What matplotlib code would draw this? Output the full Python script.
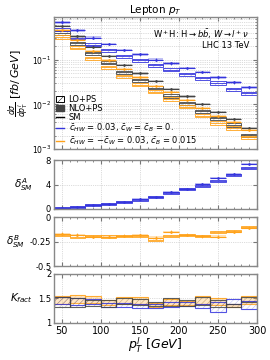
import numpy as np
import matplotlib.pyplot as plt
from matplotlib.patches import Patch
from matplotlib.lines import Line2D
from matplotlib.ticker import LogLocator, NullFormatter, FixedLocator

plt.rcParams['font.family'] = 'DejaVu Sans'
plt.rcParams['mathtext.fontset'] = 'dejavusans'
plt.rcParams['hatch.linewidth'] = 0.35

# bins of lepton pT [GeV]
edges = np.arange(40, 301, 20)

# differential cross sections [fb/GeV]
sm_nlo = [0.56, 0.33, 0.195, 0.12, 0.075, 0.049, 0.033, 0.022, 0.0150, 0.0102, 0.0068, 0.0047, 0.0030]
sm_lo = [0.394, 0.232, 0.139, 0.0857, 0.0517, 0.0343, 0.0237, 0.0154, 0.0106, 0.0070, 0.00486, 0.00346, 0.00203]
blue_nlo = [0.68, 0.45, 0.31, 0.22, 0.165, 0.13, 0.10, 0.082, 0.065, 0.052, 0.040, 0.031, 0.024]
blue_lo = [0.469, 0.310, 0.217, 0.161, 0.120, 0.096, 0.074, 0.059, 0.047, 0.0385, 0.030, 0.0217, 0.0175]
orange_nlo = [0.465, 0.271, 0.156, 0.096, 0.0608, 0.0399, 0.0261, 0.0187, 0.0123, 0.0082, 0.00544, 0.0040, 0.00267]
orange_lo = [0.321, 0.183, 0.106, 0.0676, 0.0419, 0.0277, 0.0191, 0.0132, 0.0088, 0.0056, 0.00383, 0.00296, 0.00183]
nlo_unc = 0.06   # relative scale band
lo_unc = 0.08

# relative deviations from SM
dA_nlo = [0.2, 0.35, 0.6, 0.85, 1.2, 1.65, 2.0, 2.75, 3.3, 4.1, 5.0, 5.8, 7.4]
dA_lo = [0.15, 0.35, 0.55, 0.8, 1.15, 1.5, 1.9, 2.6, 3.2, 3.75, 4.6, 5.6, 6.7]
dA_unc = 0.16
dB_nlo = [-0.17, -0.18, -0.20, -0.20, -0.19, -0.185, -0.21, -0.15, -0.18, -0.195, -0.20, -0.15, -0.11]
dB_lo = [-0.18, -0.20, -0.19, -0.20, -0.195, -0.19, -0.23, -0.195, -0.18, -0.19, -0.15, -0.14, -0.10]
dB_unc = 0.012

# K factor ranges
k_sm_low = [1.33, 1.33, 1.35, 1.33, 1.38, 1.37, 1.35, 1.35, 1.35, 1.37, 1.33, 1.33, 1.43]
k_sm_high = [1.52, 1.50, 1.46, 1.46, 1.51, 1.49, 1.43, 1.51, 1.47, 1.53, 1.46, 1.39, 1.53]
k_blue_low = [1.38, 1.36, 1.38, 1.33, 1.33, 1.30, 1.31, 1.33, 1.34, 1.30, 1.22, 1.38, 1.29]
k_blue_high = [1.53, 1.51, 1.48, 1.41, 1.40, 1.38, 1.39, 1.43, 1.42, 1.39, 1.43, 1.48, 1.44]
k_orange_low = [1.38, 1.40, 1.40, 1.36, 1.38, 1.38, 1.32, 1.36, 1.36, 1.38, 1.36, 1.33, 1.38]
k_orange_high = [1.54, 1.57, 1.55, 1.47, 1.53, 1.52, 1.41, 1.48, 1.45, 1.56, 1.50, 1.38, 1.55]

c_sm = '#444444'
c_blue = '#3535dd'
c_orange = '#ffa21a'

left = edges[:-1]
right = edges[1:]
centers = (left + right) / 2
width = 20


def nlo_series(ax, vals, low, high, color, err):
    vals = np.array(vals)
    ax.bar(centers, np.array(high) - np.array(low), bottom=low, width=width,
           color=color, alpha=0.3, lw=0)
    ax.hlines(vals, left, right, color=color, lw=0.8)
    ax.errorbar(centers, vals, yerr=err, fmt='.', ms=1.8, color=color,
                elinewidth=0.5, capsize=0)


def lo_series(ax, vals, low, high, color):
    ax.bar(centers, np.array(high) - np.array(low), bottom=low, width=width,
           fill=False, edgecolor=color, hatch='/////', lw=0, alpha=0.45)
    ax.bar(centers, np.array(high) - np.array(low), bottom=low, width=width,
           fill=False, edgecolor=color, lw=0.6)
    ax.hlines(vals, left, right, color=color, lw=0.6)


fig = plt.figure(figsize=(2.7, 3.6), dpi=100)
x0, x1 = 0.2, 0.952
ax1 = fig.add_axes([x0, 0.586, x1 - x0, 0.367])
ax2 = fig.add_axes([x0, 0.420, x1 - x0, 0.135])
ax3 = fig.add_axes([x0, 0.261, x1 - x0, 0.136])
ax4 = fig.add_axes([x0, 0.103, x1 - x0, 0.136])

# main panel
for lo_v, nlo_v, col in [(sm_lo, sm_nlo, c_sm), (blue_lo, blue_nlo, c_blue),
                         (orange_lo, orange_nlo, c_orange)]:
    lo_v = np.array(lo_v)
    nlo_v = np.array(nlo_v)
    lo_series(ax1, lo_v, lo_v * (1 - lo_unc), lo_v * (1 + lo_unc), col)
    nlo_series(ax1, nlo_v, nlo_v * (1 - nlo_unc), nlo_v * (1 + nlo_unc), col,
               nlo_v * 0.06)
ax1.set_yscale('log')
ax1.set_ylim(1e-3, 0.9)
ax1.yaxis.set_major_locator(LogLocator(base=10, numticks=10))
ax1.yaxis.set_minor_locator(LogLocator(base=10, subs=np.arange(2, 10), numticks=10))
ax1.yaxis.set_minor_formatter(NullFormatter())
ax1.grid(True, which='both', axis='y', ls=':', lw=0.5, color='#bbbbbb')
ax1.set_ylabel(r'$\frac{d\sigma}{dp_T^l}$ $[fb/\, GeV]$', fontsize=8, labelpad=1)
ax1.set_title(r'Lepton $p_T$', fontsize=7.5, pad=3)
ax1.text(0.96, 0.92, r'W$^+$H: H$\to b\bar{b}$, $W\to l^+\nu$', transform=ax1.transAxes,
         ha='right', va='top', fontsize=6)
ax1.text(0.96, 0.82, 'LHC 13 TeV', transform=ax1.transAxes, ha='right', va='top',
         fontsize=6)

handles = [
    Patch(facecolor='white', edgecolor='k', hatch='/////', lw=0.7),
    Patch(facecolor='#444444', edgecolor='#444444'),
    Line2D([], [], color='k', lw=1),
    Line2D([], [], color=c_blue, lw=1),
    Line2D([], [], color=c_orange, lw=1),
]
labels = ['LO+PS', 'NLO+PS', 'SM',
          r'$\bar{c}_{HW}$ = 0.03, $\bar{c}_W$ = $\bar{c}_B$ = 0.',
          r'$\bar{c}_{HW}$ = $-\bar{c}_W$ = 0.03, $\bar{c}_B$ = 0.015']
ax1.legend(handles, labels, loc='lower left', fontsize=6, frameon=False,
           handlelength=1.0, handleheight=0.6, labelspacing=0.0,
           handletextpad=0.5, borderaxespad=0.15, borderpad=0.1)

# delta A panel
nlo_series(ax2, dA_nlo, np.array(dA_nlo) - dA_unc, np.array(dA_nlo) + dA_unc, c_blue, 0.15)
lo_series(ax2, dA_lo, np.array(dA_lo) - dA_unc, np.array(dA_lo) + dA_unc, c_blue)
ax2.set_ylim(0, 8)
ax2.set_yticks([0, 4, 8])
ax2.set_ylabel(r'$\delta^A_{SM}$', fontsize=7.5, rotation=0, ha='center', va='center',
               labelpad=16)

# delta B panel
nlo_series(ax3, dB_nlo, np.array(dB_nlo) - dB_unc, np.array(dB_nlo) + dB_unc, c_orange, 0.015)
lo_series(ax3, dB_lo, np.array(dB_lo) - dB_unc, np.array(dB_lo) + dB_unc, c_orange)
ax3.set_ylim(-0.5, 0)
ax3.set_yticks([-0.5, -0.25, 0])
ax3.set_yticklabels(['-0.5', '-0.25', '0'])
ax3.set_ylabel(r'$\delta^B_{SM}$', fontsize=7.5, rotation=0, ha='center', va='center',
               labelpad=10)

# K factor panel
ax4.bar(centers, np.array(k_orange_high) - np.array(k_orange_low), bottom=k_orange_low,
        width=width, color=c_orange, alpha=0.25, lw=0)
for lo_k, hi_k, col in [(k_orange_low, k_orange_high, c_orange),
                        (k_blue_low, k_blue_high, c_blue),
                        (k_sm_low, k_sm_high, c_sm)]:
    ax4.bar(centers, np.array(hi_k) - np.array(lo_k), bottom=lo_k, width=width,
            fill=False, edgecolor=col, hatch='//////', lw=0, alpha=0.35)
    ax4.bar(centers, np.array(hi_k) - np.array(lo_k), bottom=lo_k, width=width,
            fill=False, edgecolor=col, lw=0.8, alpha=0.85)
ax4.set_ylim(1, 2)
ax4.set_yticks([1, 1.5, 2])
ax4.set_yticklabels(['1', '1.5', '2'])
ax4.set_ylabel(r'$K_{fact}$', fontsize=7.5, rotation=0, ha='center', va='center',
               labelpad=12)
ax4.set_xlabel(r'$p_T^l$ $[GeV]$', fontsize=9, labelpad=0)

for ax in [ax1, ax2, ax3, ax4]:
    ax.set_xlim(40, 300)
    ax.xaxis.set_major_locator(FixedLocator([50, 100, 150, 200, 250, 300]))
    ax.xaxis.set_minor_locator(FixedLocator(np.arange(40, 301, 10)))
    ax.tick_params(which='both', direction='in', top=True, right=True, labelsize=6,
                   color='#777777', pad=2)
    ax.tick_params(which='major', length=3)
    ax.tick_params(which='minor', length=1.5)
    ax.grid(True, which='major', ls=':', lw=0.5, color='#bbbbbb')
    ax.set_axisbelow(True)
    for s in ax.spines.values():
        s.set_color('#888888')
        s.set_linewidth(1.0)
    if ax is not ax4:
        ax.tick_params(labelbottom=False)
ax1.tick_params(axis='y', which='major', labelsize=5.5)
ax4.tick_params(axis='x', labelsize=7)

fig.savefig('out.png', dpi=100)
